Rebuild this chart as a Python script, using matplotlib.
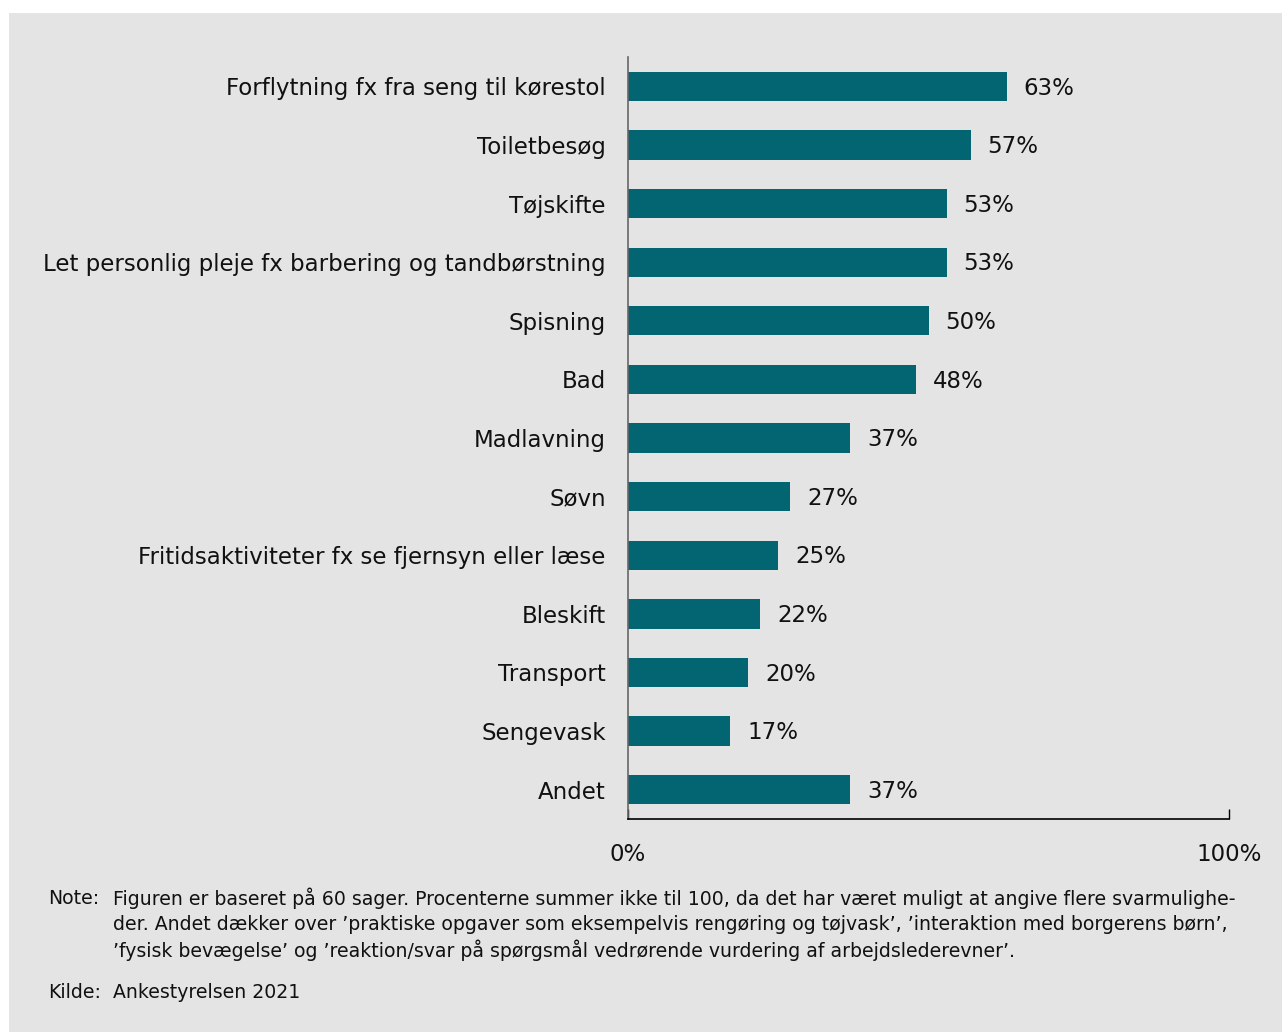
import matplotlib
matplotlib.use("Agg")
import matplotlib.pyplot as plt
from matplotlib.patches import Rectangle

categories = [
    "Forflytning fx fra seng til kørestol",
    "Toiletbesøg",
    "Tøjskifte",
    "Let personlig pleje fx barbering og tandbørstning",
    "Spisning",
    "Bad",
    "Madlavning",
    "Søvn",
    "Fritidsaktiviteter fx se fjernsyn eller læse",
    "Bleskift",
    "Transport",
    "Sengevask",
    "Andet",
]
values = [63, 57, 53, 53, 50, 48, 37, 27, 25, 22, 20, 17, 37]
x_ticks = [0, 100]
x_tick_labels = ["0%", "100%"]

note_lines = [
    "Figuren er baseret på 60 sager. Procenterne summer ikke til 100, da det har været muligt at angive flere svarmulighe-",
    "der. Andet dækker over ’praktiske opgaver som eksempelvis rengøring og tøjvask’, ’interaktion med borgerens børn’,",
    "’fysisk bevægelse’ og ’reaktion/svar på spørgsmål vedrørende vurdering af arbejdslederevner’.",
]
source = "Ankestyrelsen 2021"

W, H = 1282, 1032
BG = "#e4e4e4"
BAR = "#036472"

plt.rcParams["font.family"] = ["DejaVu Sans"]
fig = plt.figure(figsize=(W / 100, H / 100), dpi=100)
fig.patch.set_facecolor("white")
fig.patches.append(Rectangle((9 / W, 0), 1 - 9 / W, 1 - 13 / H, transform=fig.transFigure,
                             facecolor=BG, edgecolor="none", zorder=-10))

ax = fig.add_axes([628 / W, (H - 819) / H, (1229 - 628) / W, (819 - 57) / H])
ax.set_facecolor(BG)
ypos = list(range(len(categories)))
ax.barh(ypos, values, height=0.5, color=BAR)
ax.set_ylim(len(categories) - 0.5, -0.5)
ax.set_xlim(0, 100)

fs = 16.5
for y, v in zip(ypos, values):
    ax.text(v + 2.8, y + 0.03, f"{v}%", va="center", ha="left", fontsize=fs, color="#111111")

ax.set_yticks(ypos)
ax.set_yticklabels(categories, fontsize=fs, color="#111111")
ax.tick_params(axis="y", length=0, pad=16)
ax.set_xticks(x_ticks)
ax.set_xticklabels(x_tick_labels, fontsize=fs, color="#111111")
ax.tick_params(axis="x", direction="in", length=7, width=1, pad=17, color="black")

for s in ["top", "right"]:
    ax.spines[s].set_visible(False)
ax.spines["left"].set_color("#666666")
ax.spines["left"].set_linewidth(1.2)
ax.spines["bottom"].set_color("black")
ax.spines["bottom"].set_linewidth(1.2)

nfs = 13.6
ys = [898, 924, 950]
fig.text(48 / W, 1 - ys[0] / H, "Note:", fontsize=nfs, va="center", ha="left", color="#111111")
for y, line in zip(ys, note_lines):
    fig.text(113 / W, 1 - y / H, line, fontsize=nfs, va="center", ha="left", color="#111111")
fig.text(48 / W, 1 - 993 / H, "Kilde:", fontsize=nfs, va="center", ha="left", color="#111111")
fig.text(113 / W, 1 - 993 / H, source, fontsize=nfs, va="center", ha="left", color="#111111")

fig.savefig("out.png", dpi=100, facecolor=fig.get_facecolor())
